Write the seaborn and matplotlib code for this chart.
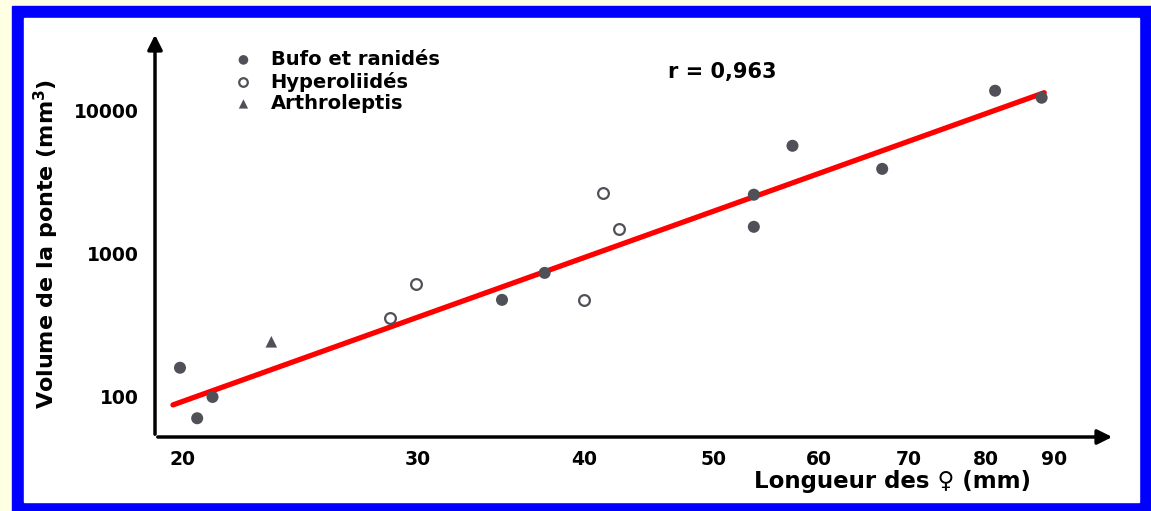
# Clutch volume vs female length (log-log), frogs and toads

import matplotlib.pyplot as plt
import seaborn as sns
from matplotlib.patches import Rectangle

# Values: female length (mm), clutch volume (mm3)
bufo_len = [19.9, 20.5, 21.05, 34.7, 37.35, 53.6, 53.6, 57.3, 66.9, 81.3, 88.1]
bufo_vol = [160, 71, 100, 477, 736, 2590, 1545, 5690, 3925, 13800, 12330]
hyper_len = [28.6, 29.9, 40.0, 41.3, 42.5]
hyper_vol = [357, 617, 477, 2670, 1496]
arthro_len = [23.3]
arthro_vol = [243]

# Regression line end points
fit_len = [19.66, 88.5]
fit_vol = [88, 13370]

x_ticks = [20, 30, 40, 50, 60, 70, 80, 90]
y_ticks = [100, 1000, 10000]

sns.set_style("white")
plt.rcParams["font.family"] = ["DejaVu Sans"]
plt.rcParams["text.color"] = "black"
plt.rcParams["xtick.labelcolor"] = "black"
plt.rcParams["ytick.labelcolor"] = "black"
plt.rcParams["mathtext.fontset"] = "dejavusans"
plt.rcParams["mathtext.default"] = "bf"

W, H = 1151, 511
fig = plt.figure(figsize=(W / 100, H / 100), dpi=100, facecolor="#FFFFE4")

# blue frame with white panel, kept behind the axes
fig.patches.append(Rectangle((12 / W, 0), (W - 12) / W, (H - 6) / H,
                             transform=fig.transFigure, color="#0000FF", zorder=-10))
fig.patches.append(Rectangle((24 / W, 9 / H), (1139 - 24) / W, (502 - 18) / H,
                             transform=fig.transFigure, color="white", zorder=-9))

ax = fig.add_axes([155 / W, (H - 437) / H, (1115 - 155) / W, (437 - 32) / H])
ax.set_facecolor("none")

sns.lineplot(x=fit_len, y=fit_vol, color="#FF0000", linewidth=3.8, ax=ax, zorder=2)
sns.scatterplot(x=bufo_len, y=bufo_vol, marker="o", s=75, color="#505058",
                edgecolor="none", label="Bufo et ranidés", ax=ax, zorder=3)
sns.scatterplot(x=hyper_len, y=hyper_vol, marker="o", s=60, facecolor="white",
                edgecolor="#505058", linewidth=1.6, label="Hyperoliidés", ax=ax, zorder=3)
sns.scatterplot(x=arthro_len, y=arthro_vol, marker="^", s=70, color="#505058",
                edgecolor="none", label="Arthroleptis", ax=ax, zorder=3)

ax.set_xscale("log")
ax.set_yscale("log")
ax.set_xlim(19.06, 100)
ax.set_ylim(52.5, 35500)

ax.minorticks_off()
ax.set_xticks(x_ticks)
ax.set_xticklabels([str(t) for t in x_ticks])
ax.set_yticks(y_ticks)
ax.set_yticklabels([str(t) for t in y_ticks])
ax.tick_params(axis="both", which="major", length=5, width=1.5, color="#555566",
               labelsize=13.5)
ax.tick_params(axis="x", pad=4)
ax.tick_params(axis="y", pad=7)
for lab in ax.get_xticklabels() + ax.get_yticklabels():
    lab.set_fontweight("bold")

# axes drawn as arrows
for side in ["top", "right", "left", "bottom"]:
    ax.spines[side].set_visible(False)
ax.annotate("", xy=(1, 0), xytext=(0, 0), xycoords="axes fraction",
            arrowprops=dict(arrowstyle="-|>", lw=2.5, color="black", mutation_scale=22))
ax.annotate("", xy=(0, 1), xytext=(0, 0), xycoords="axes fraction",
            arrowprops=dict(arrowstyle="-|>", lw=2.5, color="black", mutation_scale=22))

ax.set_xlabel("")
ax.set_ylabel("")
fig.text(892 / W, (H - 481) / H, "Longueur des ♀ (mm)", ha="center", va="center",
         fontsize=16.5, fontweight="bold")
fig.text(46 / W, (H - 244) / H, "Volume de la ponte (mm$^{3}$)", ha="center", va="center",
         rotation=90, fontsize=16, fontweight="bold")
fig.text(668 / W, (H - 72) / H, "r = 0,963", ha="left", va="center",
         fontsize=15, fontweight="bold")

ax.legend(loc="upper left", bbox_to_anchor=(224 / W, (H - 50) / H),
          bbox_transform=fig.transFigure, frameon=False,
          prop=dict(weight="bold", size=14), handletextpad=0.4,
          labelspacing=0.13, borderpad=0, borderaxespad=0, markerscale=0.8)

plt.savefig("out.png", dpi=100, facecolor=fig.get_facecolor())
